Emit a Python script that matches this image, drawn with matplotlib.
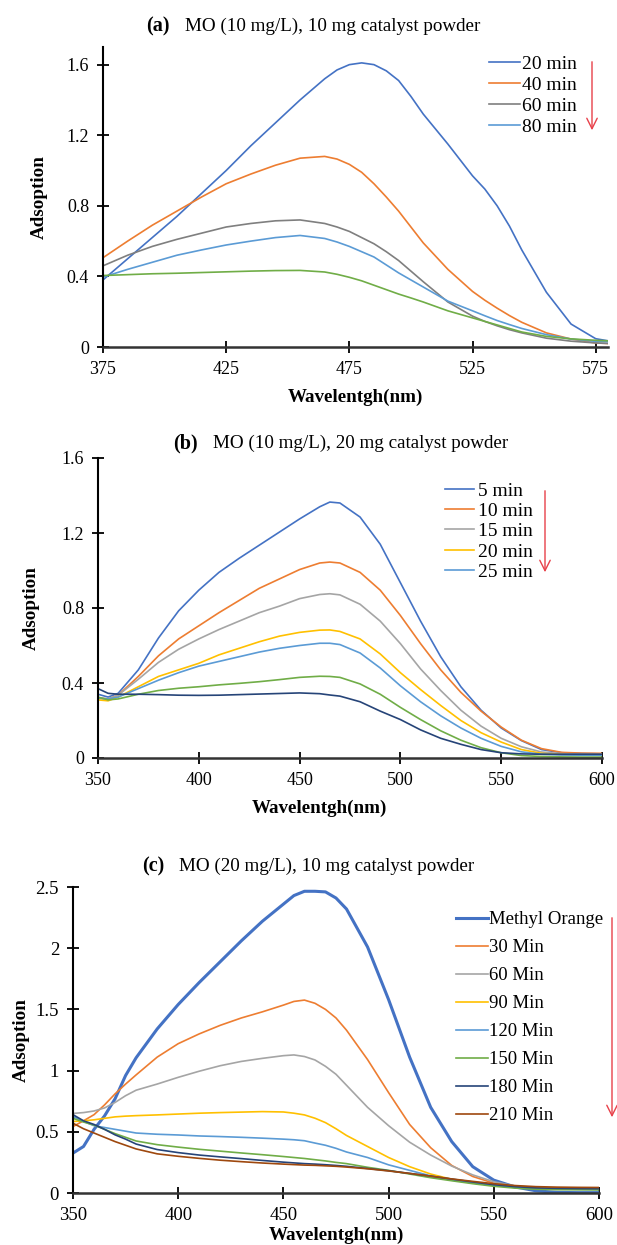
import matplotlib
matplotlib.use("Agg")
import matplotlib.pyplot as plt
from matplotlib.patches import FancyArrowPatch

plt.rcParams['font.family'] = ['Liberation Serif', 'DejaVu Serif']

# ---- panel (a) ----
wl_a = [375, 385, 395, 405, 415, 425, 435, 445, 455, 465, 470, 475, 480, 485, 490, 495,
        500, 505, 515, 525, 530, 535, 540, 545, 555, 565, 575, 580]
a_20 = [0.38, 0.50, 0.62, 0.74, 0.87, 1.00, 1.14, 1.27, 1.40, 1.52, 1.57, 1.60, 1.61, 1.60, 1.565, 1.51,
        1.42, 1.32, 1.15, 0.97, 0.895, 0.80, 0.685, 0.55, 0.31, 0.13, 0.047, 0.035]
a_40 = [0.506, 0.60, 0.69, 0.77, 0.85, 0.925, 0.98, 1.03, 1.07, 1.08, 1.065, 1.035, 0.99, 0.925, 0.85, 0.77,
        0.68, 0.59, 0.44, 0.315, 0.265, 0.22, 0.178, 0.14, 0.08, 0.045, 0.023, 0.02]
a_60 = [0.46, 0.52, 0.57, 0.61, 0.645, 0.68, 0.70, 0.715, 0.72, 0.70, 0.68, 0.655, 0.62, 0.585, 0.54, 0.49,
        0.43, 0.37, 0.255, 0.175, 0.145, 0.12, 0.098, 0.08, 0.05, 0.033, 0.023, 0.02]
a_80 = [0.396, 0.44, 0.48, 0.52, 0.55, 0.578, 0.60, 0.62, 0.632, 0.615, 0.595, 0.57, 0.54, 0.51, 0.465, 0.42,
        0.38, 0.34, 0.26, 0.205, 0.177, 0.15, 0.127, 0.105, 0.07, 0.045, 0.032, 0.03]
a_100 = [0.405, 0.41, 0.415, 0.418, 0.422, 0.426, 0.43, 0.433, 0.434, 0.425, 0.412, 0.395, 0.375, 0.35, 0.325, 0.30,
         0.278, 0.255, 0.205, 0.165, 0.145, 0.125, 0.105, 0.085, 0.06, 0.046, 0.038, 0.035]
a_series = [("20 min", a_20, "#4472C4"), ("40 min", a_40, "#ED7D31"),
            ("60 min", a_60, "#7F7F7F"), ("80 min", a_80, "#5B9BD5"),
            (None, a_100, "#70AD47")]
a_xticks = [375, 425, 475, 525, 575]
a_yticks = [0, 0.4, 0.8, 1.2, 1.6]
a_ylabels = ["0", "0.4", "0.8", "1.2", "1.6"]

# ---- panel (b) ----
wl_b = [350, 355, 360, 370, 380, 390, 400, 410, 420, 430, 440, 450, 460, 465, 470,
        480, 490, 500, 510, 520, 530, 540, 550, 560, 570, 580, 590, 600]
b_5 = [0.34, 0.325, 0.345, 0.47, 0.64, 0.785, 0.895, 0.99, 1.065, 1.135, 1.205, 1.275, 1.34, 1.365, 1.36,
       1.285, 1.14, 0.935, 0.73, 0.54, 0.38, 0.255, 0.16, 0.093, 0.045, 0.028, 0.024, 0.022]
b_10 = [0.32, 0.315, 0.335, 0.435, 0.545, 0.635, 0.705, 0.775, 0.84, 0.905, 0.955, 1.005, 1.04, 1.045, 1.04,
        0.99, 0.895, 0.76, 0.61, 0.47, 0.35, 0.25, 0.165, 0.095, 0.05, 0.03, 0.026, 0.025]
b_15 = [0.32, 0.315, 0.335, 0.42, 0.51, 0.58, 0.635, 0.685, 0.73, 0.775, 0.81, 0.85, 0.872, 0.876, 0.87,
        0.82, 0.73, 0.61, 0.475, 0.36, 0.255, 0.17, 0.105, 0.06, 0.032, 0.023, 0.021, 0.02]
b_20 = [0.31, 0.305, 0.325, 0.38, 0.435, 0.47, 0.505, 0.55, 0.585, 0.62, 0.65, 0.67, 0.682, 0.683, 0.675,
        0.635, 0.555, 0.455, 0.365, 0.28, 0.20, 0.135, 0.085, 0.045, 0.025, 0.018, 0.016, 0.015]
b_25 = [0.32, 0.315, 0.325, 0.37, 0.415, 0.455, 0.49, 0.515, 0.54, 0.565, 0.585, 0.60, 0.612, 0.612, 0.605,
        0.56, 0.48, 0.385, 0.30, 0.225, 0.16, 0.105, 0.062, 0.033, 0.02, 0.016, 0.015, 0.015]
b_30 = [0.325, 0.31, 0.315, 0.34, 0.36, 0.372, 0.38, 0.39, 0.398, 0.407, 0.418, 0.43, 0.436, 0.435, 0.43,
        0.395, 0.34, 0.27, 0.205, 0.145, 0.095, 0.055, 0.028, 0.013, 0.008, 0.006, 0.005, 0.005]
b_35 = [0.37, 0.345, 0.34, 0.34, 0.338, 0.335, 0.334, 0.335, 0.338, 0.341, 0.344, 0.347, 0.343, 0.336, 0.33,
        0.30, 0.25, 0.205, 0.15, 0.105, 0.073, 0.045, 0.028, 0.022, 0.02, 0.02, 0.02, 0.02]
b_series = [("5 min", b_5, "#4472C4"), ("10 min", b_10, "#ED7D31"),
            ("15 min", b_15, "#A5A5A5"), ("20 min", b_20, "#FFC000"),
            ("25 min", b_25, "#5B9BD5"), (None, b_30, "#70AD47"),
            (None, b_35, "#264478")]
b_xticks = [350, 400, 450, 500, 550, 600]
b_yticks = [0, 0.4, 0.8, 1.2, 1.6]
b_ylabels = ["0", "0.4", "0.8", "1.2", "1.6"]

# ---- panel (c) ----
wl_c = [350, 355, 360, 365, 370, 375, 380, 390, 400, 410, 420, 430, 440, 450, 455, 460,
        465, 470, 475, 480, 490, 500, 510, 520, 530, 540, 550, 560, 570, 580, 590, 600]
c_mo = [0.326, 0.38, 0.52, 0.63, 0.77, 0.96, 1.105, 1.34, 1.54, 1.72, 1.89, 2.06, 2.22, 2.36, 2.43, 2.465,
        2.465, 2.46, 2.41, 2.32, 2.01, 1.58, 1.11, 0.70, 0.42, 0.215, 0.105, 0.05, 0.018, 0.005, 0.003, 0.003]
c_30 = [0.543, 0.59, 0.64, 0.72, 0.81, 0.89, 0.965, 1.11, 1.22, 1.30, 1.37, 1.43, 1.48, 1.535, 1.565, 1.576,
        1.55, 1.50, 1.43, 1.33, 1.09, 0.82, 0.56, 0.37, 0.225, 0.135, 0.08, 0.052, 0.043, 0.04, 0.04, 0.04]
c_60 = [0.65, 0.657, 0.67, 0.695, 0.74, 0.795, 0.84, 0.89, 0.945, 0.995, 1.04, 1.075, 1.10, 1.122, 1.128, 1.115,
        1.087, 1.035, 0.97, 0.88, 0.70, 0.55, 0.415, 0.31, 0.22, 0.148, 0.092, 0.058, 0.045, 0.04, 0.037, 0.035]
c_90 = [0.584, 0.59, 0.598, 0.61, 0.622, 0.628, 0.632, 0.638, 0.645, 0.652, 0.657, 0.661, 0.665, 0.662, 0.652, 0.638,
        0.611, 0.575, 0.525, 0.47, 0.38, 0.29, 0.215, 0.155, 0.112, 0.082, 0.062, 0.052, 0.045, 0.04, 0.037, 0.035]
c_120 = [0.625, 0.585, 0.55, 0.535, 0.52, 0.505, 0.49, 0.48, 0.474, 0.466, 0.461, 0.455, 0.448, 0.44, 0.435, 0.427,
         0.408, 0.39, 0.365, 0.335, 0.29, 0.23, 0.185, 0.14, 0.105, 0.082, 0.062, 0.045, 0.036, 0.033, 0.031, 0.03]
c_150 = [0.61, 0.58, 0.555, 0.52, 0.485, 0.455, 0.425, 0.395, 0.375, 0.357, 0.342, 0.327, 0.313, 0.298, 0.29, 0.282,
         0.272, 0.262, 0.25, 0.24, 0.21, 0.185, 0.155, 0.125, 0.10, 0.076, 0.055, 0.04, 0.031, 0.027, 0.026, 0.025]
c_180 = [0.64, 0.59, 0.56, 0.52, 0.475, 0.44, 0.40, 0.355, 0.33, 0.31, 0.295, 0.281, 0.266, 0.252, 0.246, 0.24,
         0.236, 0.231, 0.225, 0.218, 0.20, 0.182, 0.16, 0.138, 0.114, 0.09, 0.068, 0.052, 0.042, 0.038, 0.036, 0.035]
c_210 = [0.57, 0.525, 0.49, 0.455, 0.42, 0.39, 0.36, 0.32, 0.30, 0.283, 0.268, 0.256, 0.245, 0.236, 0.232, 0.228,
         0.226, 0.222, 0.218, 0.212, 0.198, 0.18, 0.16, 0.138, 0.115, 0.095, 0.076, 0.061, 0.052, 0.048, 0.046, 0.045]
c_series = [("Methyl Orange", c_mo, "#4472C4"), ("30 Min", c_30, "#ED7D31"),
            ("60 Min", c_60, "#A5A5A5"), ("90 Min", c_90, "#FFC000"),
            ("120 Min", c_120, "#5B9BD5"), ("150 Min", c_150, "#70AD47"),
            ("180 Min", c_180, "#264478"), ("210 Min", c_210, "#9E480E")]
c_xticks = [350, 400, 450, 500, 550, 600]
c_yticks = [0, 0.5, 1, 1.5, 2, 2.5]
c_ylabels = ["0", "0.5", "1", "1.5", "2", "2.5"]

W, H = 617, 1245
fig = plt.figure(figsize=(W / 100, H / 100), dpi=100)


def px_axes(left, right, top, bottom):
    return fig.add_axes([left / W, 1 - bottom / H, (right - left) / W, (bottom - top) / H])


def style(ax, xticks, yticks, ylabels, fs):
    for s in ["top", "right"]:
        ax.spines[s].set_visible(False)
    ax.spines["left"].set_linewidth(1.5)
    ax.spines["bottom"].set_linewidth(1.8)
    ax.spines["bottom"].set_color("#333333")
    ax.set_xticks(xticks)
    ax.set_xticklabels([str(t) for t in xticks])
    ax.set_yticks(yticks)
    ax.set_yticklabels(ylabels)
    ax.tick_params(axis="both", direction="inout", length=8, width=1.3, labelsize=fs, pad=6)
    ax.set_ylabel("Adsoption", fontsize=13.7, fontweight="bold")
    ax.set_xlabel("Wavelentgh(nm)", fontsize=13.7, fontweight="bold")


def title(x0, x1, y, tag, text):
    fig.text(x0 / W, 1 - y / H, tag, fontsize=14.5, fontweight="bold", va="center", ha="left")
    fig.text(x1 / W, 1 - y / H, text, fontsize=13.7, va="center", ha="left")


def arrow(x, y0, y1):
    fig.add_artist(FancyArrowPatch((x / W, 1 - y0 / H), (x / W, 1 - y1 / H),
                                   transform=fig.transFigure, arrowstyle="->,head_length=5,head_width=2.5",
                                   color="#E8404A", lw=1.0, mutation_scale=1.5))


# (a)
ax = px_axes(103, 608, 47, 347)
for lab, vals, col in a_series:
    ax.plot(wl_a, vals, color=col, lw=1.2, label=lab if lab else "_nolegend_")
ax.set_xlim(375, 580)
ax.set_ylim(0, 1.70)
style(ax, a_xticks, a_yticks, a_ylabels, 13)
ax.yaxis.set_label_coords(-0.11, 0.5)
ax.xaxis.set_label_coords(0.5, -0.14)
ax.legend(loc="upper left", bbox_to_anchor=(489 / W, 1 - 55 / H), bbox_transform=fig.transFigure,
          frameon=False, fontsize=14, handlelength=1.6, handletextpad=0.1, labelspacing=0.18,
          borderpad=0, borderaxespad=0)
title(146, 185, 26, "(a)", "MO (10 mg/L), 10 mg catalyst powder")
arrow(592, 59, 133)

# (b)
ax = px_axes(98, 602, 458, 758)
for lab, vals, col in b_series:
    ax.plot(wl_b, vals, color=col, lw=1.2, label=lab if lab else "_nolegend_")
ax.set_xlim(350, 600)
ax.set_ylim(0, 1.6)
style(ax, b_xticks, b_yticks, b_ylabels, 13)
ax.yaxis.set_label_coords(-0.115, 0.5)
ax.xaxis.set_label_coords(0.44, -0.14)
ax.legend(loc="upper left", bbox_to_anchor=(445 / W, 1 - 482 / H), bbox_transform=fig.transFigure,
          frameon=False, fontsize=14, handlelength=1.5, handletextpad=0.2, labelspacing=0.14,
          borderpad=0, borderaxespad=0)
title(173, 213, 443, "(b)", "MO (10 mg/L), 20 mg catalyst powder")
arrow(545, 488, 575)

# (c)
ax = px_axes(73, 599, 887, 1193)
for lab, vals, col in c_series:
    lw = 2.2 if lab == "Methyl Orange" else 1.2
    ax.plot(wl_c, vals, color=col, lw=lw, label=lab)
ax.set_xlim(350, 600)
ax.set_ylim(0, 2.5)
style(ax, c_xticks, c_yticks, c_ylabels, 13.5)
ax.yaxis.set_label_coords(-0.083, 0.5)
ax.xaxis.set_label_coords(0.5, -0.111)
ax.legend(loc="upper left", bbox_to_anchor=(456 / W, 1 - 911 / H), bbox_transform=fig.transFigure,
          frameon=False, fontsize=13.5, handlelength=1.7, handletextpad=0.08, labelspacing=0.58,
          borderpad=0, borderaxespad=0)
title(142, 179, 866, "(c)", "MO (20 mg/L), 10 mg catalyst powder")
arrow(612, 915, 1120)

fig.savefig("out.png", dpi=100)
